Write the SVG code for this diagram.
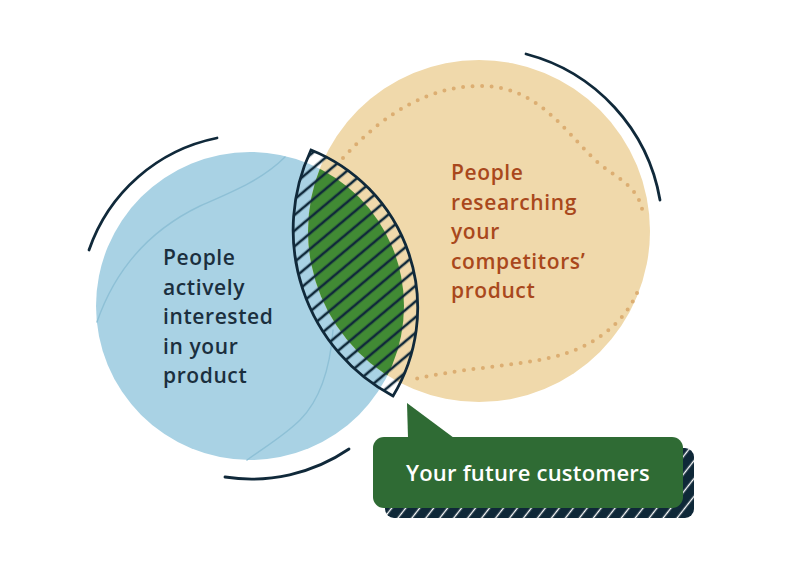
<svg xmlns="http://www.w3.org/2000/svg" width="800" height="571" viewBox="0 0 800 571">
<defs>
<style>
.arc{fill:none;stroke:#10293a;stroke-width:2.8;stroke-linecap:round}
.tex{fill:none;stroke:#8ec0d6;stroke-width:1.4;stroke-linecap:round}
.dots{fill:none;stroke:#dcae72;stroke-width:4;stroke-linecap:round;stroke-dasharray:0 9.5}
.lbl{font-family:"Open Sans","Noto Sans","DejaVu Sans",sans-serif;font-weight:600;font-size:21px;letter-spacing:0.6px}
</style>
<clipPath id="clipBlue"><circle cx="250" cy="306" r="154"/></clipPath>
<pattern id="hatch" width="12" height="12" patternUnits="userSpaceOnUse" patternTransform="rotate(-40)">
<line x1="-1" y1="6" x2="13" y2="6" stroke="#10293a" stroke-width="2.6"/>
</pattern>
<pattern id="shadowHatch" width="11" height="11" patternUnits="userSpaceOnUse" patternTransform="rotate(-52)">
<rect width="11" height="11" fill="#0f2838"/>
<line x1="-1" y1="5.5" x2="12" y2="5.5" stroke="#ffffff" stroke-width="1.4"/>
</pattern>
</defs>
<rect width="800" height="571" fill="#ffffff"/>

<g id="circle-interested">
<circle cx="250" cy="306" r="154" fill="#a9d2e4"/>
<path class="tex" d="M285 157 C262 180 232 192 200 206 C150 230 115 270 97 322"/>
<path class="tex" d="M333 330 C330 370 320 400 300 420 C285 435 265 447 247 460"/>
<path class="arc" d="M89 250 A171 171 0 0 1 217 138"/>
<path class="arc" d="M225 477 A173 173 0 0 0 349 449"/>
<text class="lbl" fill="#1b2f3e"><tspan x="163" y="265">People</tspan><tspan x="163" y="294.5">actively</tspan><tspan x="163" y="324">interested</tspan><tspan x="163" y="353.5">in your</tspan><tspan x="163" y="383">product</tspan></text>
</g>

<g id="circle-competitors">
<circle cx="479" cy="231" r="171" fill="#f0d9ab"/>
<path class="dots" d="M343 158 C385 112 430 86 480 86 C535 86 560 125 595 160 C615 178 640 185 643 215"/>
<path class="dots" d="M637 293 C625 320 600 342 567 353 C530 366 470 366 410 380"/>
<path class="arc" d="M526 54 A183 183 0 0 1 660 200"/>
<text class="lbl" fill="#a9481c"><tspan x="451" y="180">People</tspan><tspan x="451" y="209.5">researching</tspan><tspan x="451" y="239">your</tspan><tspan x="451" y="268.5">competitors’</tspan><tspan x="451" y="298">product</tspan></text>
</g>

<g id="intersection">
<circle cx="479" cy="231" r="171" fill="#418a34" clip-path="url(#clipBlue)"/>
<path d="M311 150 A188 188 0 0 0 393 396 A170 170 0 0 0 311 150 Z" fill="url(#hatch)" stroke="#10293a" stroke-width="2.8" stroke-linejoin="miter"/>
</g>

<g id="callout">
<rect x="385" y="448" width="309" height="70" rx="9" fill="url(#shadowHatch)"/>
<rect x="373" y="437" width="310" height="71" rx="11" fill="#2f6b34"/>
<polygon points="407,403 454,438 408,438" fill="#2f6b34"/>
<text x="528" y="481" text-anchor="middle" font-family="Open Sans, Noto Sans, DejaVu Sans, sans-serif" font-weight="600" font-size="22" letter-spacing="0.2" fill="#ffffff">Your future customers</text>
</g>

<g id="connectors"></g>
</svg>
